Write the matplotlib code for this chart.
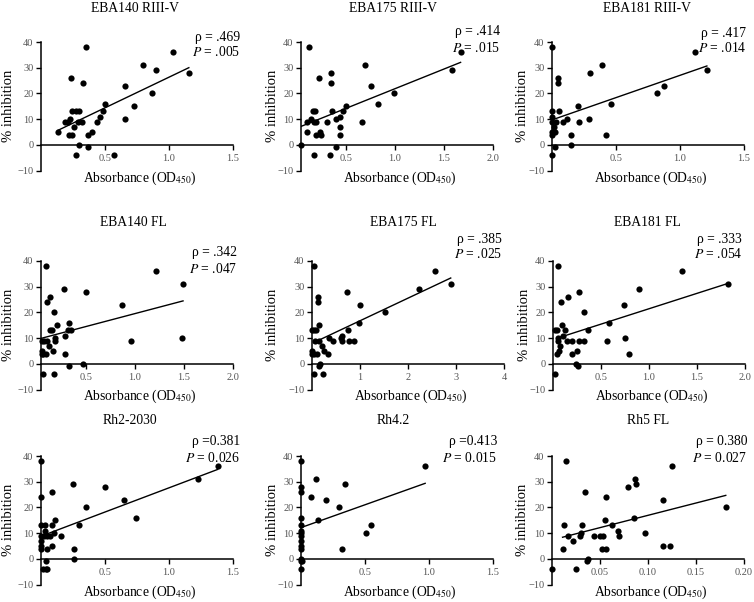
import numpy as np
import matplotlib
matplotlib.use("Agg")
import matplotlib.pyplot as plt

plt.rcParams['font.family'] = ['Liberation Serif', 'DejaVu Serif']
plt.rcParams['mathtext.fontset'] = 'stix'

# ---------------- data ----------------
titles = ["EBA140 RIII-V", "EBA175 RIII-V", "EBA181 RIII-V",
          "EBA140 FL", "EBA175 FL", "EBA181 FL",
          "Rh2-2030", "Rh4.2", "Rh5 FL"]
rho_labels = ["ρ = .469", "ρ = .414", "ρ = .417",
              "ρ = .342", "ρ = .385", "ρ = .333",
              "ρ =0.381", "ρ =0.413", "ρ = 0.380"]
p_labels = [".005", ".015", ".014", ".047", ".025", ".054", "0.026", "0.015", "0.027"]

eba140_riii_x = [0.135, 0.19, 0.21, 0.23, 0.236, 0.24, 0.215, 0.246, 0.254, 0.27, 0.30, 0.272,
                 0.29, 0.30, 0.33, 0.32, 0.35, 0.365, 0.37, 0.40, 0.44, 0.46, 0.485, 0.50,
                 0.57, 0.66, 0.66, 0.73, 0.80, 0.87, 0.90, 1.03, 1.155]
eba140_riii_y = [5, 9, 9, 10, 26, 13, 4, 4, 7, 13, 13, -4, 9, 0, 24, 9, 38, -1, 4, 5, 9, 11, 13, 16,
                 -4, 23, 10, 15, 31, 20, 29, 36, 28]

eba175_riii_x = [0.044, 0.105, 0.108, 0.13, 0.15, 0.17, 0.18, 0.18, 0.19, 0.20, 0.20, 0.23, 0.24,
                 0.25, 0.31, 0.34, 0.355, 0.355, 0.36, 0.40, 0.40, 0.44, 0.44, 0.44, 0.47, 0.505,
                 0.67, 0.70, 0.755, 0.83, 0.995, 1.58, 1.67]
eba175_riii_y = [0, 9, 5, 38, 10, 13, -4, 9, 13, 4, 9, 26, 5, 4, 9, -4, 28, 24, 13, -1, 10, 7, 4, 11,
                 13, 15, 9, 31, 23, 16, 20, 29, 36]

eba181_riii_x = [0, 0, 0, 0, 0, 0, 0, 0.015, 0.02, 0.026, 0.034, 0.047, 0.047, 0.057, 0.085, 0.12,
                 0.145, 0.145, 0.20, 0.21, 0.29, 0.30, 0.39, 0.42, 0.46, 0.82, 0.875, 1.12, 1.21]
eba181_riii_y = [38, 13, 11, 9, 5, 4, -4, 7, 5, -1, 9, 26, 24, 13, 9, 10, 4, 0, 15, 9, 10, 28, 31, 4,
                 16, 20, 23, 36, 29]

eba140_fl_x = [0.088, 0.048, 0.054, 0.048, 0.065, 0.09, 0.058, 0.075, 0.105, 0.105, 0.125, 0.13,
               0.13, 0.155, 0.165, 0.17, 0.175, 0.18, 0.18, 0.20, 0.27, 0.285, 0.29, 0.32, 0.33,
               0.33, 0.35, 0.47, 0.50, 0.865, 0.955, 1.21, 1.48, 1.49]
eba140_fl_y = [38, 9, 5, 4, 4, 4, -4, 9, 24, 9, 7, 26, 13, 13, 5, -4, 20, 10, 9, 15, 29, 11, 4, 13,
               16, -1, 13, 0, 28, 23, 9, 36, 10, 31]

eba175_fl_x = [0.04, 0.0, 0.035, 0.0, 0.0, 0.035, 0.05, 0.07, 0.08, 0.11, 0.13, 0.13, 0.14, 0.14,
               0.14, 0.17, 0.21, 0.23, 0.26, 0.33, 0.36, 0.43, 0.61, 0.625, 0.62, 0.73, 0.74, 0.78,
               0.87, 0.97, 0.99, 1.53, 2.22, 2.56, 2.89]
eba175_fl_y = [38, 13, 13, 5, 4, 4, -4, 9, 13, 4, 26, 24, 15, 9, -1, 0, 7, -4, 5, 4, 10, 9, 10, 11,
               9, 28, 13, 9, 9, 16, 23, 20, 29, 36, 31]

eba181_fl_x = [0.05, 0.02, 0.02, 0.04, 0.045, 0.05, 0.055, 0.065, 0.07, 0.08, 0.09, 0.107, 0.13,
               0.145, 0.155, 0.20, 0.20, 0.24, 0.245, 0.26, 0.27, 0.27, 0.32, 0.32, 0.36, 0.56,
               0.58, 0.74, 0.755, 0.79, 0.90, 1.34, 1.82]
eba181_fl_y = [38, -4, 13, 4, 13, 10, 9, 5, 7, 24, 15, 11, 13, 9, 26, 4, 9, 0, 5, -1, 28, 9, 20, 9,
               13, 9, 16, 23, 10, 4, 29, 36, 31]

rh2_x = [0, 0, 0, 0, 0, 0, 0, 0.015, 0.03, 0.03, 0.02, 0.037, 0.04, 0.045, 0.05, 0.045, 0.067,
         0.083, 0.083, 0.088, 0.10, 0.106, 0.16, 0.25, 0.255, 0.26, 0.295, 0.35, 0.50, 0.65, 0.74,
         1.23, 1.38]
rh2_y = [38, 24, 13, 9, 7, 5, 4, -4, 13, 11, 9, -4, -1, 4, 9, -4, 9, 5, 13, 26, 10, 15, 9, 29, 0,
         4, 13, 20, 28, 23, 16, 31, 36]

rh4_x = [0, 0, 0, 0, 0, 0, 0, 0, 0, 0, 0, 0, 0, 0, 0.01, 0.08, 0.115, 0.13, 0.195, 0.295, 0.32,
         0.34, 0.51, 0.55, 0.97]
rh4_y = [38, 28, 26, 16, 13, 11, 10, 9, 7, 5, 4, 0, -1, -4, -1, 24, 31, 15, 23, 20, 4, 29, 10,
         13, 36]

rh5_x = [0.0, 0.011, 0.012, 0.0145, 0.0165, 0.022, 0.025, 0.029, 0.030, 0.031, 0.034, 0.036,
         0.0375, 0.044, 0.050, 0.052, 0.053, 0.055, 0.056, 0.056, 0.062, 0.069, 0.070, 0.079,
         0.085, 0.086, 0.0875, 0.097, 0.1155, 0.116, 0.123, 0.1255, 0.181]
rh5_y = [-4, 4, 13, 38, 9, 7, -4, 9, 10, 13, 26, -1, 0, 9, 9, 4, 9, 15, 4, 24, 13, 11, 9, 28, 16,
         31, 29, 10, 5, 23, 5, 36, 20]

# x-range over which each regression line is drawn (as in the original)
fit_x_start = [0.135, 0.044, 0.0, 0.04, 0.035, 0.05, 0.04, 0.0, 0.011]
fit_x_end = [1.155, 1.67, 1.21, 1.49, 2.89, 1.82, 1.38, 0.97, 0.181]

xs = [eba140_riii_x, eba175_riii_x, eba181_riii_x, eba140_fl_x, eba175_fl_x, eba181_fl_x,
      rh2_x, rh4_x, rh5_x]
ys = [eba140_riii_y, eba175_riii_y, eba181_riii_y, eba140_fl_y, eba175_fl_y, eba181_fl_y,
      rh2_y, rh4_y, rh5_y]

xlims = [(0, 1.5), (0.045, 2.0), (0, 1.5), (0.04, 2.0), (0, 4), (0, 2.0), (0, 1.5), (0, 1.5), (0, 0.2)]
xticks = [[0.5, 1.0, 1.5], [0.5, 1.0, 1.5, 2.0], [0.5, 1.0, 1.5],
          [0.5, 1.0, 1.5, 2.0], [1, 2, 3, 4], [0.5, 1.0, 1.5, 2.0],
          [0.5, 1.0, 1.5], [0.5, 1.0, 1.5], [0.05, 0.10, 0.15, 0.20]]
xfmt = ["{:.1f}"] * 4 + ["{:.0f}"] + ["{:.1f}"] * 3 + ["{:.2f}"]
yticks = [-10, 0, 10, 20, 30, 40]

# ---------------- layout (pixels) ----------------
W, H = 754, 602
lefts = [41, 301, 552, 41, 312, 553, 41, 301, 552]
tops = [42, 42, 42, 261, 261, 261, 456, 456, 456]
aw, ah = 192, 128.5
ylab_x = [9, 272, 523, 9, 273, 524, 9, 272, 523]
title_xy = [(135, 9), (393, 9), (647, 9), (133, 223), (403, 223), (647, 223),
            (130, 420), (393, 420), (648, 420)]
stat_xy = [(240, 37), (500, 32), (746, 33), (237, 253), (502, 239), (742, 239),
           (240, 442), (497, 442), (747, 442)]
xlabel_y = [178, 178, 178, 396, 396, 396, 592, 592, 592]

fig = plt.figure(figsize=(W / 100, H / 100), dpi=100)

for i in range(9):
    l, t = lefts[i], tops[i]
    ax = fig.add_axes([l / W, 1 - (t + ah) / H, aw / W, ah / H])
    x = np.array(xs[i], dtype=float)
    y = np.array(ys[i], dtype=float)
    ax.scatter(x, y, s=20, color='black', zorder=3, clip_on=False, linewidths=0)
    k, b = np.polyfit(x, y, 1)
    xx = np.array([fit_x_start[i], fit_x_end[i]])
    ax.plot(xx, k * xx + b, color='black', lw=1.0, zorder=2)

    ax.set_xlim(*xlims[i])
    ax.set_ylim(-10, 40)
    for s in ['top', 'right']:
        ax.spines[s].set_visible(False)
    ax.spines['bottom'].set_position(('data', 0))
    ax.spines['bottom'].set_bounds(xlims[i][0], xlims[i][1])
    ax.spines['left'].set_bounds(-10, 40)
    for s in ['left', 'bottom']:
        ax.spines[s].set_linewidth(1.1)
    ax.set_xticks(xticks[i])
    ax.set_xticklabels([xfmt[i].format(v) for v in xticks[i]])
    ax.set_yticks(yticks)
    ax.set_yticklabels([str(v).replace('-', '\u2212') for v in yticks])
    ax.tick_params(axis='both', direction='out', length=3.5, width=1.0,
                   labelsize=7.5, labelcolor='#555555', pad=2)
    ax.tick_params(axis='x', pad=3)
    ax.patch.set_alpha(0)

    fig.text(ylab_x[i] / W, 1 - (t + ah / 2) / H, "% inhibition", rotation=90,
             ha='center', va='center', fontsize=10.5)

    tx, ty = title_xy[i]
    fig.text(tx / W, 1 - ty / H, titles[i], ha='center', va='center', fontsize=9.8)
    sx, sy = stat_xy[i]
    fig.text(sx / W, 1 - sy / H, rho_labels[i], ha='right', va='center', fontsize=9.8)
    fig.text(sx / W, 1 - (sy + 15.5) / H, "$P$ = " + p_labels[i], ha='right', va='center',
             fontsize=9.8)
    fig.text((l + aw / 2 + 3) / W, 1 - xlabel_y[i] / H, "Absorbance (OD$_{450}$)",
             ha='center', va='center', fontsize=9.8)

fig.savefig("out.png", dpi=100)
